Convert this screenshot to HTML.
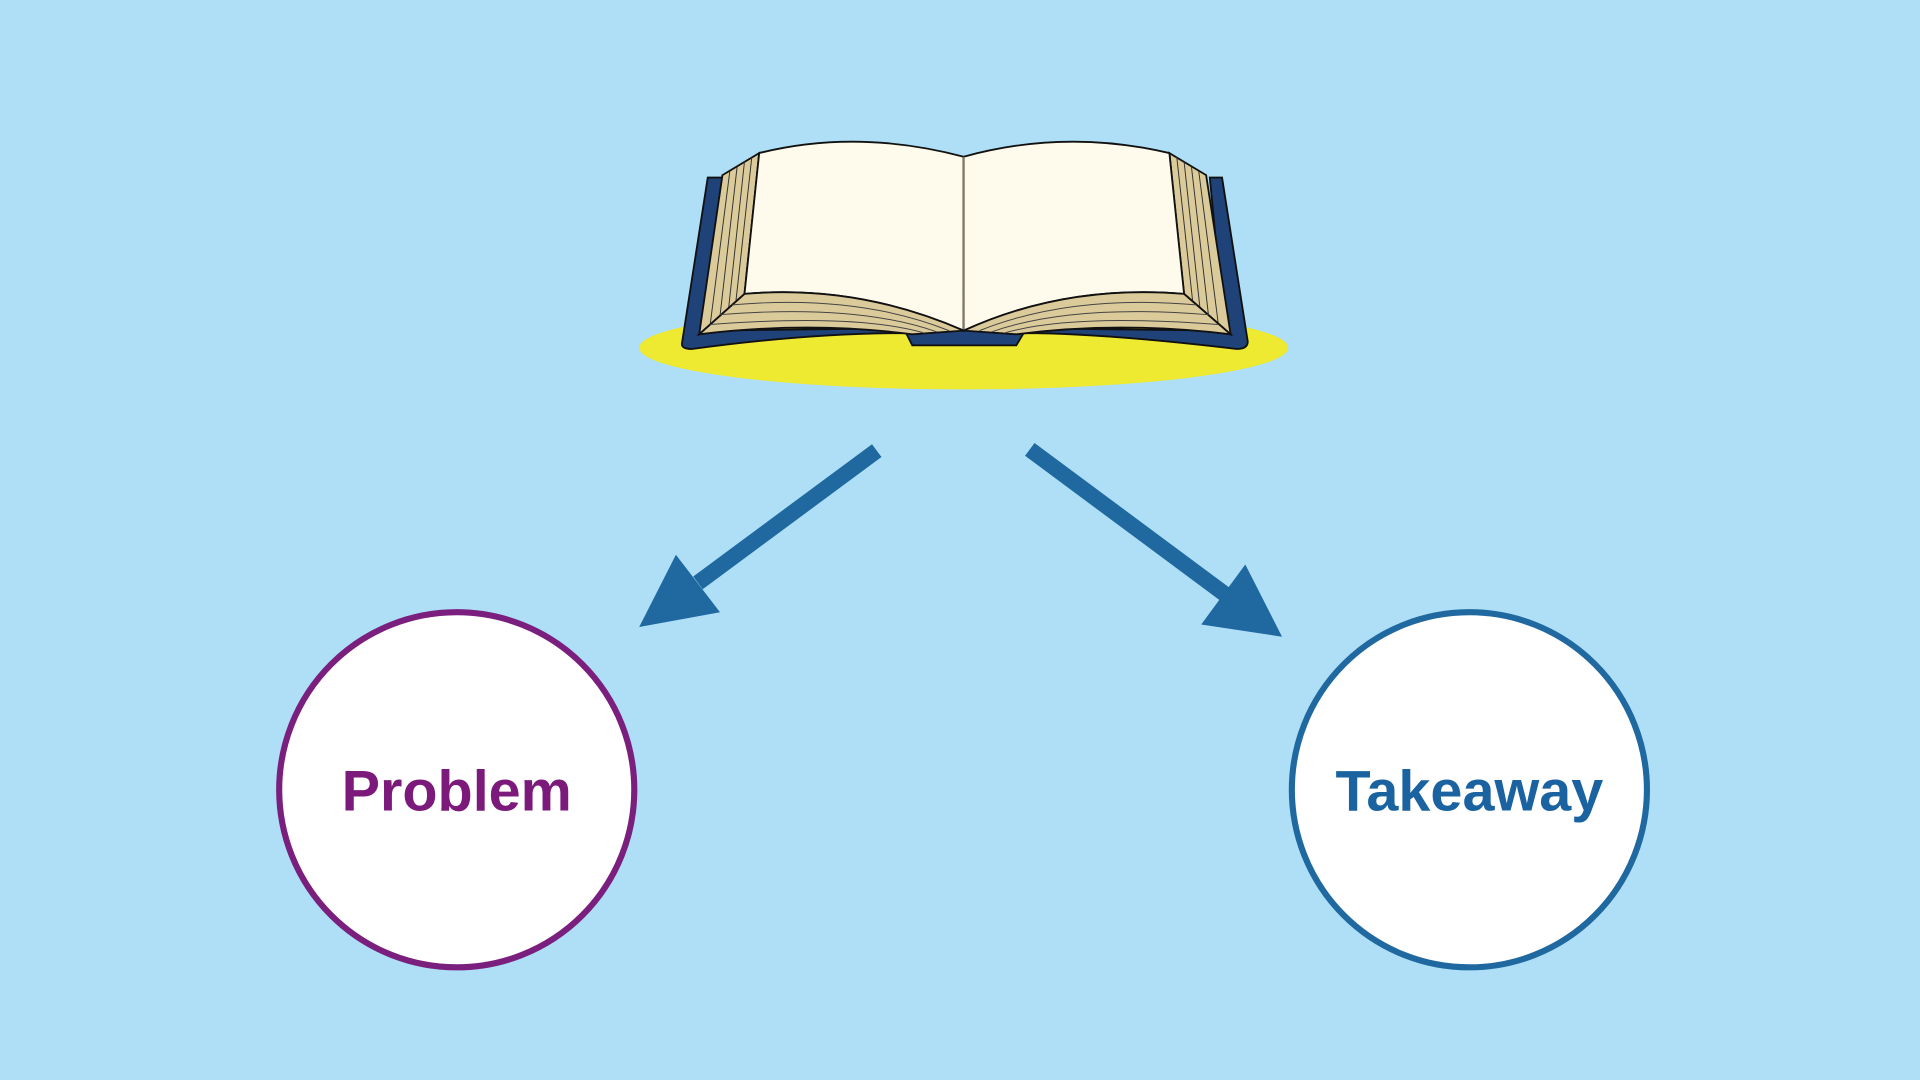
<!DOCTYPE html>
<html><head><meta charset="utf-8"><style>
html,body{margin:0;padding:0;width:1920px;height:1080px;overflow:hidden;background:#aedff6}
svg{display:block}
</style></head><body>
<svg width="1920" height="1080" viewBox="0 0 1568 882" xmlns="http://www.w3.org/2000/svg">
<rect width="1568" height="882" fill="#aedff6"/>
<ellipse cx="787" cy="284" rx="265" ry="34" fill="#eee931"/>
<!-- cover -->
<path d="M578,145 L590,145 L575,270 L745,268 L830,268 L1000,270 L988,145 L998,145 L1019,279 Q1019,285 1010,285 Q900,272 836,272 L830,282 L745,282 L740,272 Q660,272 565,285 Q556,285 557,280 Z" fill="#1f4278" stroke="#111" stroke-width="1.5"/>
<!-- side page blocks -->
<path d="M590,143 L620,125 L608,240 L571,273 Z" fill="#dccb9a" stroke="#111" stroke-width="1.5"/>
<path d="M985,143 L955,125 L967,240 L1005,273 Z" fill="#dccb9a" stroke="#111" stroke-width="1.5"/>
<g stroke="#333" stroke-width="0.8" fill="none">
<path d="M596,140 L580,265 M602,136 L588,258 M608,132 L595,252 M614,128 L601,246"/>
<path d="M979,140 L995,265 M973,136 L987,258 M967,132 L980,252 M961,128 L974,246"/>
</g>
<!-- pages -->
<path d="M620,125 Q700,105 787,128 L787,270 Q700,232 608,240 Z" fill="#fffbec" stroke="#111" stroke-width="1.5"/>
<path d="M787,128 Q870,105 955,125 L967,240 Q870,232 787,270 Z" fill="#fffbec" stroke="#111" stroke-width="1.5"/>
<line x1="787" y1="128" x2="787" y2="270" stroke="#8a7a55" stroke-width="1.2"/>
<!-- bottom page stacks -->
<path d="M571,273 L608,240 Q700,232 787,270 L745,273 Q660,262 571,273 Z" fill="#dccb9a" stroke="#111" stroke-width="1.5"/>
<path d="M1005,273 L967,240 Q870,232 787,270 L830,273 Q915,262 1005,273 Z" fill="#dccb9a" stroke="#111" stroke-width="1.5"/>
<g stroke="#444" stroke-width="0.8" fill="none">
<path d="M598,249 Q700,240 775,270 M588,257 Q700,248 765,271 M580,265 Q700,256 755,272"/>
<path d="M977,249 Q875,240 800,270 M987,257 Q875,248 810,271 M995,265 Q875,256 820,272"/>
</g>
<!-- arrows -->
<g fill="#1f68a0">
<line x1="716" y1="368" x2="570" y2="476" stroke="#1f68a0" stroke-width="13"/>
<polygon points="522,512 552,453 588,500"/>
<line x1="841" y1="367" x2="1000" y2="485" stroke="#1f68a0" stroke-width="13"/>
<polygon points="1047,520 1017,461 981,510"/>
</g>
<!-- circles -->
<circle cx="373" cy="645" r="145" fill="#fff" stroke="#7a1f7e" stroke-width="5"/>
<text x="373" y="662" text-anchor="middle" font-family="Liberation Sans, sans-serif" font-weight="bold" font-size="47" fill="#7b1a7b">Problem</text>
<circle cx="1200" cy="645" r="145" fill="#fff" stroke="#1f68a0" stroke-width="5"/>
<text x="1200" y="662" text-anchor="middle" font-family="Liberation Sans, sans-serif" font-weight="bold" font-size="47" fill="#1a63a0">Takeaway</text>
</svg>
</body></html>
